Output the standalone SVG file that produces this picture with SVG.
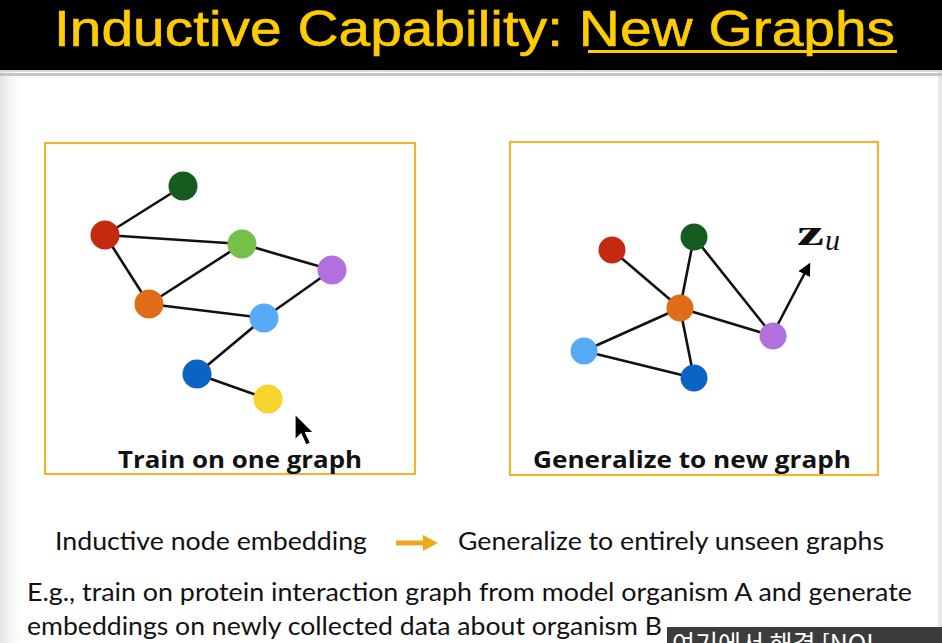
<svg xmlns="http://www.w3.org/2000/svg" width="942" height="643" viewBox="0 0 942 643">
  <defs>
    <linearGradient id="edgeShade" x1="0" y1="0" x2="1" y2="0">
      <stop offset="0" stop-color="#e4e4e4"/>
      <stop offset="1" stop-color="#ffffff" stop-opacity="0"/>
    </linearGradient>
    <marker id="tip" viewBox="0 0 10 10" refX="8" refY="5" markerWidth="5" markerHeight="5" orient="auto">
      <path d="M0,0 L10,5 L0,10 z" fill="#000"/>
    </marker>
    <filter id="soft" x="-30%" y="-30%" width="160%" height="160%">
      <feGaussianBlur stdDeviation="0.6"/>
    </filter>
  </defs>
  <style>
    .title { font-family: "Liberation Sans", Lato, sans-serif; font-size: 50px; fill: #FFCC00; stroke: #FFCC00; stroke-width: 0.6; }
    .frame { fill: none; stroke: #EBB731; stroke-width: 2.2; }
    .edge { stroke: #111; stroke-width: 2.6; stroke-linecap: round; fill: none; }
    .cap { font-family: "Open Sans", "Liberation Sans", sans-serif; font-weight: bold; font-size: 23px; fill: #111; }
    .body { font-family: Lato, "Open Sans", "Liberation Sans", sans-serif; font-size: 25px; fill: #111; }
    .c-dg { fill: #165C1F; } .c-rd { fill: #C42A10; } .c-lg { fill: #74C04B; }
    .c-pu { fill: #B270DE; } .c-or { fill: #E06C18; } .c-lb { fill: #57AAF6; }
    .c-db { fill: #0B64C2; } .c-ye { fill: #F6D32D; }
  </style>

  <!-- page -->
  <rect x="0" y="0" width="942" height="643" fill="#ffffff"/>
  <rect x="0" y="72" width="26" height="571" fill="url(#edgeShade)"/>
  <rect x="938" y="72" width="4" height="571" fill="#e6e6e6"/>

  <!-- header bar -->
  <rect x="0" y="0" width="942" height="70" fill="#000"/>
  <rect x="0" y="70" width="942" height="2" fill="#d9d9d9"/>
  <rect x="0" y="73" width="942" height="3" fill="#c4c4c4"/>
  <text class="title" x="54" y="46" textLength="841" lengthAdjust="spacingAndGlyphs">Inductive Capability: New Graphs</text>
  <rect x="588" y="50" width="309" height="3" fill="#FFCC00"/>

  <!-- left panel: training graph -->
  <g id="panel-train">
    <rect class="frame" x="45" y="143" width="370" height="331"/>
    <g id="train-edges">
      <line class="edge" x1="183" y1="186" x2="105" y2="235"/>
      <line class="edge" x1="105" y1="235" x2="242" y2="244"/>
      <line class="edge" x1="105" y1="235" x2="149" y2="304"/>
      <line class="edge" x1="242" y1="244" x2="149" y2="304"/>
      <line class="edge" x1="242" y1="244" x2="332" y2="270"/>
      <line class="edge" x1="149" y1="304" x2="264" y2="318"/>
      <line class="edge" x1="332" y1="270" x2="264" y2="318"/>
      <line class="edge" x1="264" y1="318" x2="197" y2="374"/>
      <line class="edge" x1="197" y1="374" x2="268" y2="399"/>
    </g>
    <g id="t-dg"><circle class="c-dg" cx="183" cy="186" r="14.5"/></g>
    <g id="t-rd"><circle class="c-rd" cx="105" cy="235" r="14.5"/></g>
    <g id="t-lg"><circle class="c-lg" cx="242" cy="244" r="14.5"/></g>
    <g id="t-pu"><circle class="c-pu" cx="332" cy="270" r="14.5"/></g>
    <g id="t-or"><circle class="c-or" cx="149" cy="304" r="14.5"/></g>
    <g id="t-lb"><circle class="c-lb" cx="264" cy="318" r="14.5"/></g>
    <g id="t-db"><circle class="c-db" cx="197" cy="374" r="14.5"/></g>
    <g id="t-ye"><circle class="c-ye" cx="268" cy="399" r="14.5"/></g>
    <text class="cap" x="240" y="468" text-anchor="middle" textLength="244" lengthAdjust="spacingAndGlyphs">Train on one graph</text>
  </g>

  <!-- pointer -->
  <g id="pointer" filter="url(#soft)">
    <path d="M295,414 L295,440 L301,434 L306,445 L310.5,443 L305.5,432.5 L313.5,432.5 Z" fill="#000" stroke="#fff" stroke-width="1.2" stroke-linejoin="round"/>
  </g>

  <!-- right panel: unseen graph -->
  <g id="panel-new">
    <rect class="frame" x="510" y="142" width="368" height="333"/>
    <g id="new-edges">
      <line class="edge" x1="612" y1="250" x2="680" y2="308"/>
      <line class="edge" x1="694" y1="237" x2="680" y2="308"/>
      <line class="edge" x1="694" y1="237" x2="773" y2="336"/>
      <line class="edge" x1="680" y1="308" x2="773" y2="336"/>
      <line class="edge" x1="680" y1="308" x2="584" y2="351"/>
      <line class="edge" x1="680" y1="308" x2="694" y2="378"/>
      <line class="edge" x1="584" y1="351" x2="694" y2="378"/>
      <line class="edge" x1="778" y1="324" x2="809" y2="265" marker-end="url(#tip)"/>
    </g>
    <g id="n-rd"><circle class="c-rd" cx="612" cy="250" r="13.5"/></g>
    <g id="n-dg"><circle class="c-dg" cx="694" cy="237" r="13.5"/></g>
    <g id="n-or"><circle class="c-or" cx="680" cy="308" r="13.5"/></g>
    <g id="n-pu"><circle class="c-pu" cx="773" cy="336" r="13.5"/></g>
    <g id="n-lb"><circle class="c-lb" cx="584" cy="351" r="13.5"/></g>
    <g id="n-db"><circle class="c-db" cx="694" cy="378" r="13.5"/></g>
    <g id="zu-label">
      <text x="797" y="245" font-family="'Liberation Serif', 'DejaVu Serif', serif" font-weight="bold" font-size="36" fill="#111" textLength="27" lengthAdjust="spacingAndGlyphs">z</text>
      <text x="825" y="250" font-family="'Liberation Serif', 'DejaVu Serif', serif" font-style="italic" font-size="30" fill="#111">u</text>
    </g>
    <text class="cap" x="692" y="468" text-anchor="middle" textLength="318" lengthAdjust="spacingAndGlyphs">Generalize to new graph</text>
  </g>

  <!-- statement lines -->
  <text class="body" x="55" y="550" textLength="312" lengthAdjust="spacingAndGlyphs">Inductive node embedding</text>
  <g id="implies">
    <line x1="396" y1="543" x2="425" y2="543" stroke="#EDAA1C" stroke-width="5"/>
    <path d="M423,535 L438,543 L423,551 Z" fill="#EDAA1C"/>
  </g>
  <text class="body" x="458" y="550" textLength="426" lengthAdjust="spacingAndGlyphs">Generalize to entirely unseen graphs</text>
  <text class="body" x="27" y="601" textLength="885" lengthAdjust="spacingAndGlyphs">E.g., train on protein interaction graph from model organism A and generate</text>
  <text class="body" x="27" y="635" textLength="635" lengthAdjust="spacingAndGlyphs">embeddings on newly collected data about organism B</text>

  <!-- caption strip at the bottom edge -->
  <rect x="667" y="627" width="275" height="16" fill="#3c3c3c"/>
  <text x="672" y="653" font-family="'Noto Sans CJK KR', 'Noto Sans', sans-serif" font-size="25" fill="#ffffff">여기에서 해결 [NOI</text>
</svg>
